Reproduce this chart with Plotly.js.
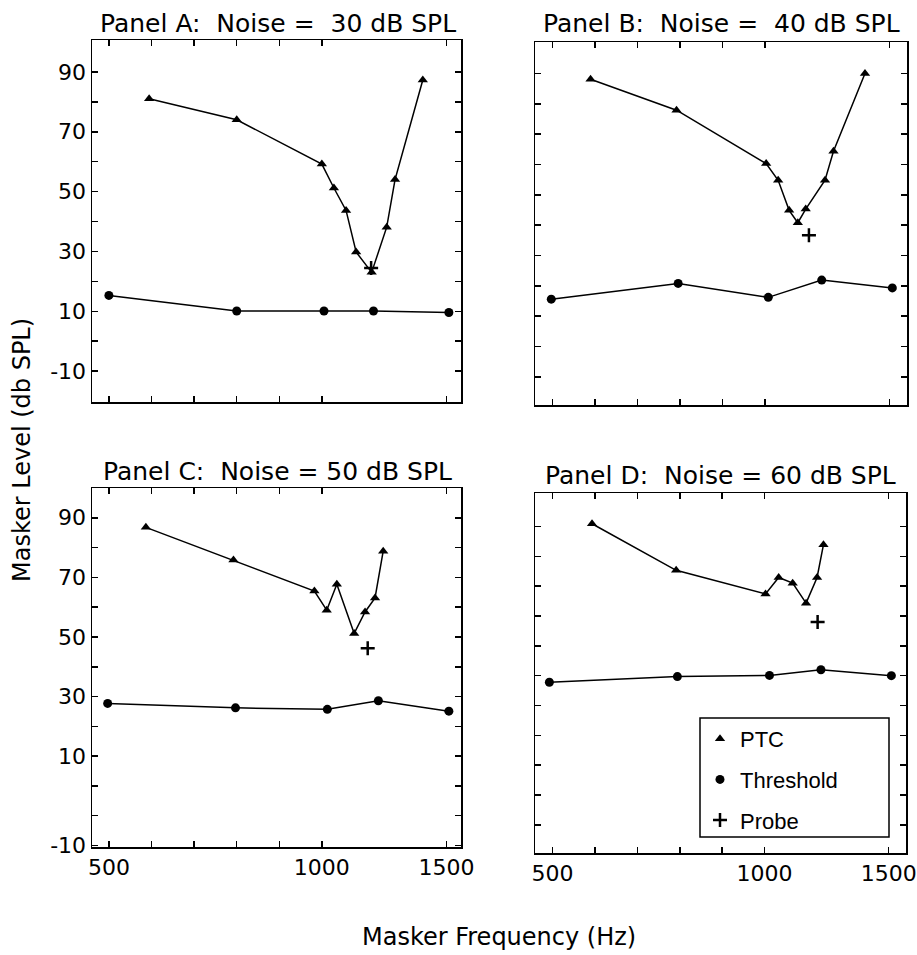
<!DOCTYPE html>
<html>
<head>
<meta charset="utf-8">
<script src="https://cdn.plot.ly/plotly-3.0.1.min.js"></script>
<style>
html,body{margin:0;padding:0;background:#ffffff;}
#chart{width:917px;height:955px;}
</style>
</head>
<body>
<div id="chart"></div>
<script>
// ---------------- DATA ----------------
const panelTitles = [
  "Panel A:\u00a0 Noise =\u00a0 30 dB SPL",
  "Panel B:\u00a0 Noise =\u00a0 40 dB SPL",
  "Panel C:\u00a0 Noise = 50 dB SPL",
  "Panel D:\u00a0 Noise = 60 dB SPL"
];
const seriesNames = ["PTC", "Threshold", "Probe"];

// Panel A (noise 30 dB SPL)
const ptcFreqA = [570, 758, 1000, 1040, 1082, 1118, 1176, 1235, 1269, 1389];
const ptcLevelA = [81, 74, 59.2, 51.2, 43.7, 29.8, 23, 38.1, 54, 87.3];
const thrFreqA = [500, 758, 1007, 1183, 1512];
const thrLevelA = [15.3, 10.1, 10.1, 10.1, 9.6];
const probeFreqA = [1174];
const probeLevelA = [24.5];

// Panel B (noise 40 dB SPL)
const ptcFreqB = [566, 749, 1003, 1043, 1081, 1112, 1141, 1215, 1249, 1384];
const ptcLevelB = [88.1, 77.9, 60.3, 54.8, 44.9, 40.8, 45.3, 54.8, 64.4, 90];
const thrFreqB = [498, 753, 1010, 1202, 1513];
const thrLevelB = [15.6, 20.8, 16.2, 21.9, 19.3];
const probeFreqB = [1153];
const probeLevelB = [36.7];

// Panel C (noise 50 dB SPL)
const ptcFreqC = [564, 750, 976, 1016, 1050, 1111, 1151, 1189, 1221];
const ptcLevelC = [86.8, 75.8, 65.4, 59, 67.7, 51.2, 58.4, 63.1, 78.8];
const thrFreqC = [498, 755, 1018, 1202, 1512];
const thrLevelC = [27.7, 26.2, 25.7, 28.6, 25.1];
const probeFreqC = [1161];
const probeLevelC = [46.2];

// Panel D (noise 60 dB SPL)
const ptcFreqD = [569, 749, 1003, 1047, 1096, 1145, 1187, 1212];
const ptcLevelD = [90.9, 75.3, 67.4, 72.9, 71, 64.3, 72.9, 83.9];
const thrFreqD = [495, 752, 1016, 1202, 1513];
const thrLevelD = [37.8, 39.7, 40.1, 42, 40];
const probeFreqD = [1189];
const probeLevelD = [58];

// Tick labels
const xTickVals = [500, 574.3, 659.8, 757.9, 870.6, 1000, 1500];
const xTickText = ["500", "", "", "", "", "1000", "1500"];
const yTickVals = [-10, 0, 10, 20, 30, 40, 50, 60, 70, 80, 90];
const yTickText = ["-10", "", "10", "", "30", "", "50", "", "70", "", "90"];
const yTickValsC = [-20, -10, 0, 10, 20, 30, 40, 50, 60, 70, 80, 90];
const yTickTextC = ["-10", "", "", "10", "", "30", "", "50", "", "70", "", "90"];

const xTitle = "Masker Frequency (Hz)";
const yTitle = "Masker Level (db SPL)";

// ---------------- LAYOUT HELPERS ----------------
const W = 917, H = 955;
const domX = (l, r) => [l / W, r / W];
const domY = (t, b) => [1 - b / H, 1 - t / H];
const FONT = "DejaVu Sans";

const traces = [];
function addPanel(xa, ya, pf, pl, tf, tl, qf, ql, legend) {
  traces.push({x: pf, y: pl, xaxis: xa, yaxis: ya, mode: "lines",
    line: {color: "#000", width: 1.5}, showlegend: false, hoverinfo: "skip"});
  traces.push({x: pf, y: pl, xaxis: xa, yaxis: ya, mode: "markers", name: seriesNames[0],
    legendgroup: "ptc", showlegend: legend,
    marker: {symbol: "triangle-up", size: 9, color: "#000"}});
  traces.push({x: tf, y: tl, xaxis: xa, yaxis: ya, mode: "lines",
    line: {color: "#000", width: 1.5}, showlegend: false, hoverinfo: "skip"});
  traces.push({x: tf, y: tl, xaxis: xa, yaxis: ya, mode: "markers", name: seriesNames[1],
    legendgroup: "thr", showlegend: legend,
    marker: {symbol: "circle", size: 9, color: "#000"}});
  traces.push({x: qf, y: ql, xaxis: xa, yaxis: ya, mode: "markers", name: seriesNames[2],
    legendgroup: "probe", showlegend: legend,
    marker: {symbol: "cross-thin", size: 10, color: "#000", line: {color: "#000", width: 2.5}}});
}
addPanel("x", "y", ptcFreqA, ptcLevelA, thrFreqA, thrLevelA, probeFreqA, probeLevelA, true);
addPanel("x2", "y2", ptcFreqB, ptcLevelB, thrFreqB, thrLevelB, probeFreqB, probeLevelB, false);
addPanel("x3", "y3", ptcFreqC, ptcLevelC, thrFreqC, thrLevelC, probeFreqC, probeLevelC, false);
addPanel("x4", "y4", ptcFreqD, ptcLevelD, thrFreqD, thrLevelD, probeFreqD, probeLevelD, false);

function xAxis(domain, range, anchor, labels) {
  return {type: "log", domain: domain, range: range, anchor: anchor,
    showline: true, linecolor: "#000", linewidth: 1.5, mirror: "ticks",
    ticks: "inside", ticklen: 6, tickwidth: 1.5, tickcolor: "#000",
    showgrid: false, zeroline: false, tickmode: "array",
    tickvals: xTickVals, ticktext: xTickText, showticklabels: labels,
    tickfont: {family: FONT, size: 22, color: "#000"}};
}
function yAxis(domain, range, anchor, labels, tv, tt) {
  return {domain: domain, range: range, anchor: anchor,
    showline: true, linecolor: "#000", linewidth: 1.5, mirror: "ticks",
    ticks: "inside", ticklen: 6, tickwidth: 1.5, tickcolor: "#000",
    showgrid: false, zeroline: false, tickmode: "array",
    tickvals: tv, ticktext: tt, showticklabels: labels,
    tickfont: {family: FONT, size: 22, color: "#000"}};
}

const rangeL = [2.6751, 3.1967];
const rangeR = [2.6742, 3.2006];
const titleFont = {family: FONT, size: 25, color: "#000"};

const layout = {
  width: W, height: H,
  margin: {l: 0, r: 0, t: 0, b: 0},
  paper_bgcolor: "#fff", plot_bgcolor: "#fff",
  font: {family: FONT, color: "#000"},
  showlegend: true,
  xaxis: xAxis(domX(92, 461), rangeL, "y", false),
  yaxis: yAxis(domY(40, 402), [-20.33, 100.67], "x", true, yTickVals, yTickText),
  xaxis2: xAxis(domX(535, 907), rangeR, "y2", false),
  yaxis2: yAxis(domY(42, 405), [-19.3, 100.4], "x2", false, yTickVals, yTickText),
  xaxis3: xAxis(domX(92, 461), rangeL, "y3", true),
  yaxis3: yAxis(domY(488, 847), [-20.5, 100], "x3", true, yTickValsC, yTickTextC),
  xaxis4: xAxis(domX(535, 906), rangeR, "y4", true),
  yaxis4: yAxis(domY(493, 853), [-19.4, 101.2], "x4", false, yTickVals, yTickText),
  legend: {x: 700 / W, xanchor: "left", y: 1 - 718 / H, yanchor: "top",
    bgcolor: "rgba(0,0,0,0)", borderwidth: 0, traceorder: "grouped", tracegroupgap: 9,
    font: {family: "Liberation Sans", size: 22, color: "#000"}},
  shapes: [{type: "rect", xref: "paper", yref: "paper",
    x0: 700 / W, x1: 889 / W, y0: 1 - 837 / H, y1: 1 - 718 / H,
    line: {color: "#000", width: 1.5}, fillcolor: "rgba(0,0,0,0)"}],
  annotations: [
    {text: panelTitles[0], xref: "paper", yref: "paper", x: 277.5 / W, y: 1 - 23 / H,
      xanchor: "center", yanchor: "middle", showarrow: false, font: titleFont},
    {text: panelTitles[1], xref: "paper", yref: "paper", x: 721 / W, y: 1 - 23 / H,
      xanchor: "center", yanchor: "middle", showarrow: false, font: titleFont},
    {text: panelTitles[2], xref: "paper", yref: "paper", x: 277.5 / W, y: 1 - 471 / H,
      xanchor: "center", yanchor: "middle", showarrow: false, font: titleFont},
    {text: panelTitles[3], xref: "paper", yref: "paper", x: 720.5 / W, y: 1 - 475 / H,
      xanchor: "center", yanchor: "middle", showarrow: false, font: titleFont},
    {text: xTitle, xref: "paper", yref: "paper", x: 499 / W, y: 1 - 937 / H,
      xanchor: "center", yanchor: "middle", showarrow: false, font: {family: FONT, size: 24, color: "#000"}},
    {text: yTitle, xref: "paper", yref: "paper", x: 22 / W, y: 1 - 450 / H, textangle: -90,
      xanchor: "center", yanchor: "middle", showarrow: false, font: {family: FONT, size: 24, color: "#000"}}
  ]
};

Plotly.newPlot("chart", traces, layout, {displayModeBar: false, staticPlot: true});
</script>
</body>
</html>
